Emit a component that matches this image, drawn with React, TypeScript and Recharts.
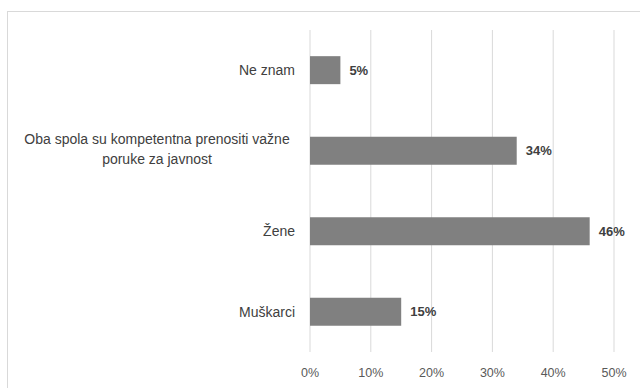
import { BarChart, Bar, XAxis, YAxis, CartesianGrid, LabelList } from "recharts";

const categories = [
  "Ne znam",
  "Oba spola su kompetentna prenositi važne\nporuke za javnost",
  "Žene",
  "Muškarci",
];
const values = [5, 34, 46, 15];
const xTicks = [0, 10, 20, 30, 40, 50];

const data = categories.map((name, i) => ({ name, value: values[i] }));

const FONT = "'Liberation Sans', Arial, sans-serif";

// Excel-style category tick: single lines right aligned, wrapped label centred
function CategoryTick(props: any) {
  const { x, y, payload } = props;
  const lines: string[] = String(payload.value).split("\n");
  if (lines.length === 1) {
    return (
      <text x={x} y={y} dy="0.35em" textAnchor="end" fontSize={14} fill="#404040" fontFamily={FONT}>
        {lines[0]}
      </text>
    );
  }
  const lh = 20;
  const cx = x - 138;
  return (
    <text x={cx} y={y - 2 - ((lines.length - 1) * lh) / 2} textAnchor="middle" fontSize={14} fill="#404040" fontFamily={FONT}>
      {lines.map((l, i) => (
        <tspan key={i} x={cx} dy={i === 0 ? "0.35em" : lh}>
          {l}
        </tspan>
      ))}
    </text>
  );
}

export default function App() {
  return (
    <div style={{ position: "absolute", left: 0, top: 0, width: 640, height: 388, overflow: "hidden", background: "#fff" }}>
      {/* chart frame runs off the right/bottom edge */}
      <div style={{ position: "absolute", left: 7, top: 11, width: 700, height: 450, border: "1px solid #d9d9d9" }} />
      <div style={{ position: "absolute", left: 0, top: 0 }}>
        <BarChart
          width={640}
          height={388}
          data={data}
          layout="vertical"
          margin={{ top: 30, right: 26, left: 8, bottom: 6 }}
          barCategoryGap="32.5%"
        >
          <CartesianGrid horizontal={false} stroke="#d9d9d9" strokeWidth={1} />
          <XAxis
            type="number"
            domain={[0, 50]}
            ticks={xTicks}
            tickFormatter={(v) => `${v}%`}
            axisLine={false}
            tickLine={false}
            tickSize={0}
            tickMargin={16}
            height={30}
            tick={{ fill: "#595959", fontSize: 12.5, fontFamily: FONT }}
          />
          <YAxis
            type="category"
            dataKey="name"
            width={302}
            axisLine={false}
            tickLine={false}
            tickSize={0}
            tickMargin={15}
            tick={<CategoryTick />}
          />
          <Bar dataKey="value" fill="#808080" isAnimationActive={false}>
            <LabelList
              dataKey="value"
              position="right"
              offset={9}
              formatter={(v: any) => `${v}%`}
              style={{ fill: "#404040", fontSize: 13, fontWeight: 700, fontFamily: FONT }}
            />
          </Bar>
        </BarChart>
      </div>
    </div>
  );
}
